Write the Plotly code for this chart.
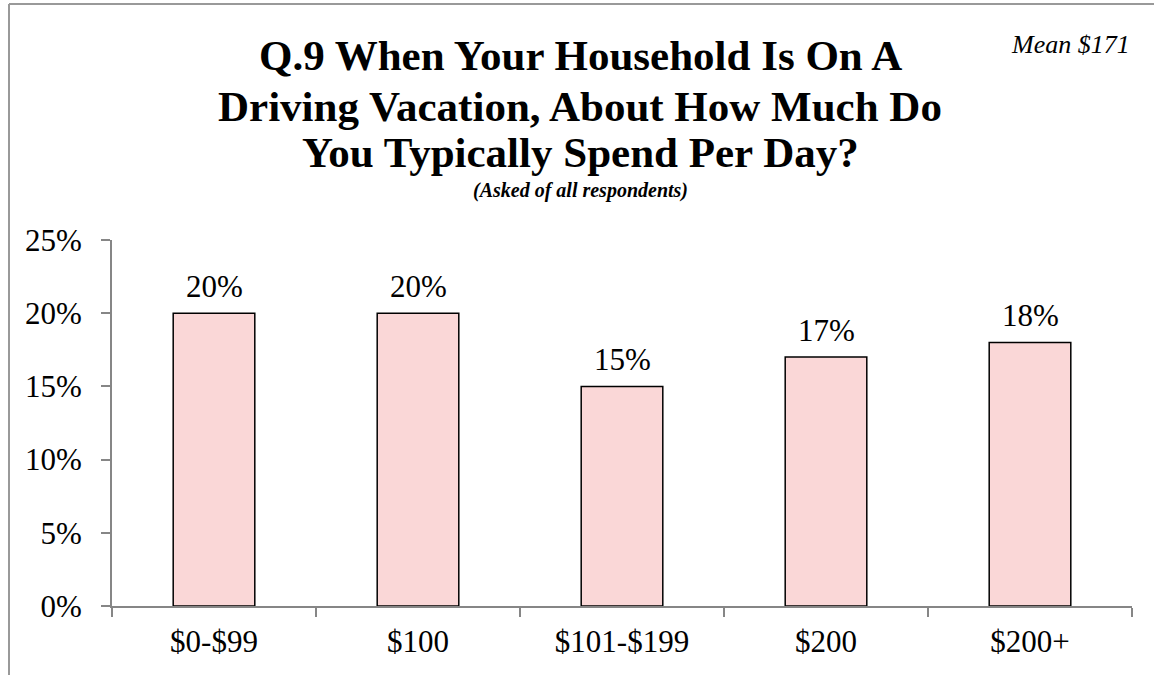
import plotly.graph_objects as go

categories = ["$0-$99", "$100", "$101-$199", "$200", "$200+"]
values = [0.20, 0.20, 0.15, 0.17, 0.18]
labels = ["20%", "20%", "15%", "17%", "18%"]
y_ticks = [0, 0.05, 0.10, 0.15, 0.20, 0.25]
y_tick_labels = ["0%", "5%", "10%", "15%", "20%", "25%"]

FONT = "Liberation Serif"
W, H = 1154, 675
L, R, T, B = 112, 22, 240, 69
pw, ph = W - L - R, H - T - B

def px(x):
    return (x - L) / pw

def py(y):
    return (H - B - y) / ph

fig = go.Figure()
fig.add_trace(go.Bar(
    x=categories, y=values,
    marker=dict(color="#FAD7D7", line=dict(color="black", width=1.5)),
    width=0.4,
))
for c, v, t in zip(categories, values, labels):
    fig.add_annotation(x=c, y=v, text=t, showarrow=False, yanchor="middle", yshift=27,
                       font=dict(family=FONT, size=31, color="black"))

fig.update_layout(
    width=W, height=H, margin=dict(l=L, r=R, t=T, b=B),
    paper_bgcolor="white", plot_bgcolor="white", showlegend=False,
    font=dict(family=FONT, color="black"),
    xaxis=dict(type="category", showline=True, linecolor="#868686", linewidth=2,
               ticks="outside", tickson="boundaries", ticklen=9, tickcolor="#868686",
               tickwidth=2, showgrid=False, tickfont=dict(family=FONT, size=31),
               ticklabelstandoff=7),
    yaxis=dict(range=[0, 0.25], tickvals=y_ticks, ticktext=y_tick_labels,
               showline=True, linecolor="#868686", linewidth=2, ticks="outside",
               ticklen=9, tickcolor="#868686", tickwidth=2, showgrid=False,
               zeroline=False, tickfont=dict(family=FONT, size=31),
               ticklabelstandoff=13),
)

title_lines = ["Q.9 When Your Household Is On A",
               "Driving Vacation, About How Much Do",
               "You Typically Spend Per Day?"]
title_y = [55, 106, 152]
for line, y in zip(title_lines, title_y):
    fig.add_annotation(text="<b>" + line + "</b>", x=px(580), y=py(y), xref="paper", yref="paper",
                       showarrow=False, xanchor="center", yanchor="middle",
                       font=dict(family=FONT, size=43, color="black"))
fig.add_annotation(text="<b><i>(Asked of all respondents)</i></b>", x=px(580), y=py(190),
                   xref="paper", yref="paper", showarrow=False, xanchor="center", yanchor="middle",
                   font=dict(family=FONT, size=20, color="black"))
fig.add_annotation(text="<i>Mean $171</i>", x=px(1070), y=py(44), xref="paper", yref="paper",
                   showarrow=False, xanchor="center", yanchor="middle",
                   font=dict(family=FONT, size=26, color="black"))

fig.add_shape(type="line", xref="paper", yref="paper", x0=px(9), x1=px(9), y0=py(680), y1=py(4),
              line=dict(color="#999999", width=2))
fig.add_shape(type="line", xref="paper", yref="paper", x0=px(9), x1=px(1160), y0=py(4), y1=py(4),
              line=dict(color="#999999", width=2))

fig.write_html("out.html", config={"displayModeBar": False},
               post_script="document.body.style.margin='0px';document.body.style.overflow='hidden';")
